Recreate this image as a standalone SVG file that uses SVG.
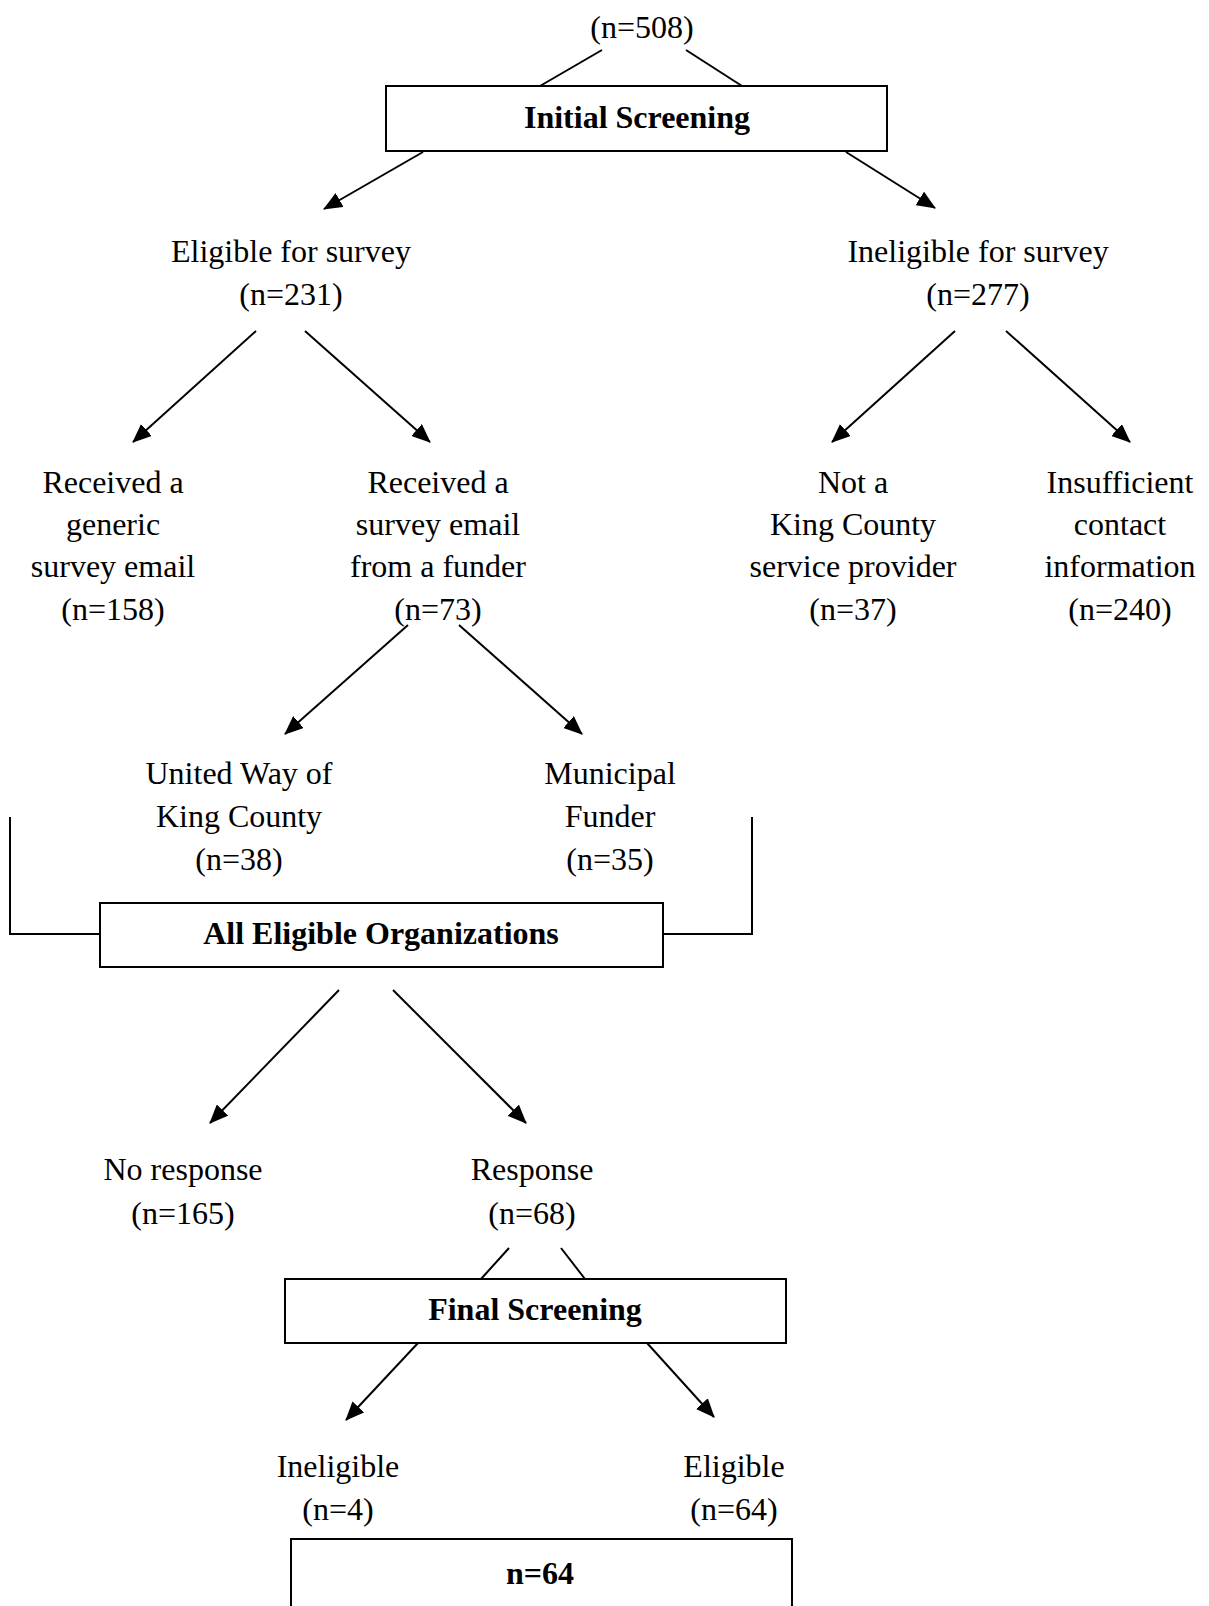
<svg xmlns="http://www.w3.org/2000/svg" width="1209" height="1606" viewBox="0 0 1209 1606">
<defs>
<marker id="ah" viewBox="0 0 19 16" refX="18" refY="8" markerWidth="19" markerHeight="16" markerUnits="userSpaceOnUse" orient="auto">
<path d="M0,0 L19,8 L0,16 Z" fill="#000"/>
</marker>
<style>
text{font-family:"Liberation Serif","Times New Roman",serif;font-size:32px;fill:#000;text-anchor:middle}
.b{font-weight:bold}
.box{fill:#fff;stroke:#000;stroke-width:2}
.ln{stroke:#000;stroke-width:2;fill:none}
.ar{stroke:#000;stroke-width:2;fill:none;marker-end:url(#ah)}
</style>
</defs>
<rect width="1209" height="1606" fill="#fff"/>
<g id="connectors">
<line class="ln" x1="602" y1="50" x2="540" y2="86"/>
<line class="ln" x1="686" y1="50" x2="742" y2="86"/>
<line class="ar" x1="423" y1="152" x2="324" y2="209"/>
<line class="ar" x1="846" y1="152" x2="935" y2="208"/>
<line class="ar" x1="256" y1="331" x2="133" y2="442"/>
<line class="ar" x1="305" y1="331" x2="430" y2="442"/>
<line class="ar" x1="955" y1="331" x2="832" y2="442"/>
<line class="ar" x1="1006" y1="331" x2="1130" y2="442"/>
<line class="ar" x1="408" y1="625" x2="285" y2="734"/>
<line class="ar" x1="459" y1="625" x2="582" y2="734"/>
<polyline class="ln" points="10,817 10,934 100,934"/>
<polyline class="ln" points="752,817 752,934 663,934"/>
<line class="ar" x1="339" y1="990" x2="210" y2="1123"/>
<line class="ar" x1="393" y1="990" x2="526" y2="1123"/>
<line class="ln" x1="509" y1="1248" x2="481" y2="1279"/>
<line class="ln" x1="561" y1="1248" x2="585" y2="1279"/>
<line class="ar" x1="418" y1="1343" x2="346" y2="1420"/>
<line class="ar" x1="647" y1="1343" x2="714" y2="1417"/>
</g>
<g id="n508"><text x="642" y="38">(n=508)</text></g>
<g id="initial-screening">
<rect class="box" x="386" y="86" width="501" height="65"/>
<text class="b" x="637" y="128">Initial Screening</text>
</g>
<g id="eligible"><text x="291" y="262">Eligible for survey</text><text x="291" y="305">(n=231)</text></g>
<g id="ineligible"><text x="978" y="262">Ineligible for survey</text><text x="978" y="305">(n=277)</text></g>
<g id="generic"><text x="113" y="493">Received a</text><text x="113" y="535">generic</text><text x="113" y="577">survey email</text><text x="113" y="620">(n=158)</text></g>
<g id="funder"><text x="438" y="493">Received a</text><text x="438" y="535">survey email</text><text x="438" y="577">from a funder</text><text x="438" y="620">(n=73)</text></g>
<g id="not-king"><text x="853" y="493">Not a</text><text x="853" y="535">King County</text><text x="853" y="577">service provider</text><text x="853" y="620">(n=37)</text></g>
<g id="insufficient"><text x="1120" y="493">Insufficient</text><text x="1120" y="535">contact</text><text x="1120" y="577">information</text><text x="1120" y="620">(n=240)</text></g>
<g id="united-way"><text x="239" y="784">United Way of</text><text x="239" y="827">King County</text><text x="239" y="870">(n=38)</text></g>
<g id="municipal"><text x="610" y="784">Municipal</text><text x="610" y="827">Funder</text><text x="610" y="870">(n=35)</text></g>
<g id="all-eligible">
<rect class="box" x="100" y="903" width="563" height="64"/>
<text class="b" x="381" y="944">All Eligible Organizations</text>
</g>
<g id="no-response"><text x="183" y="1180">No response</text><text x="183" y="1224">(n=165)</text></g>
<g id="response"><text x="532" y="1180">Response</text><text x="532" y="1224">(n=68)</text></g>
<g id="final-screening">
<rect class="box" x="285" y="1279" width="501" height="64"/>
<text class="b" x="535" y="1320">Final Screening</text>
</g>
<g id="final-ineligible"><text x="338" y="1477">Ineligible</text><text x="338" y="1520">(n=4)</text></g>
<g id="final-eligible"><text x="734" y="1477">Eligible</text><text x="734" y="1520">(n=64)</text></g>
<g id="final-n">
<rect class="box" x="291" y="1539" width="501" height="80"/>
<text class="b" x="540" y="1584">n=64</text>
</g>
</svg>
